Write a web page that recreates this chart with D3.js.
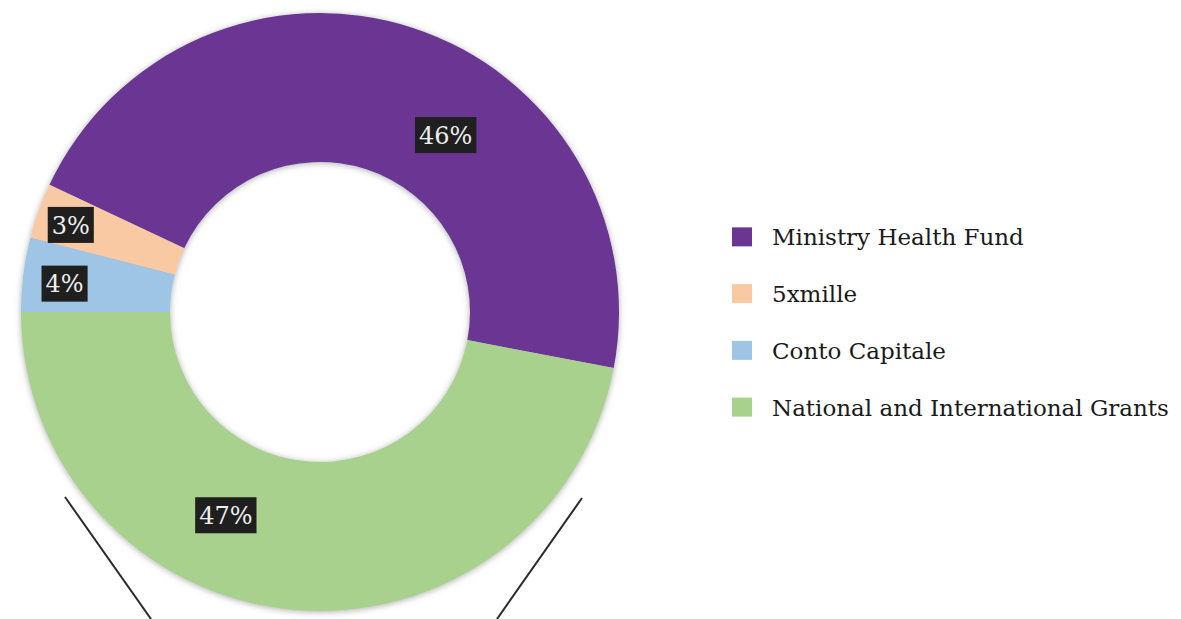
<!DOCTYPE html>
<html>
<head>
<meta charset="utf-8">
<script src="https://cdn.jsdelivr.net/npm/d3@7"></script>
<style>
  html, body { margin: 0; padding: 0; background: #ffffff; }
  svg { display: block; }
</style>
</head>
<body>
<svg id="chart" width="1181" height="619"></svg>
<script>
// ---- data ----
const categories = ["Ministry Health Fund", "5xmille", "Conto Capitale", "National and International Grants"];
const values = [46, 3, 4, 47];
const labels = ["46%", "3%", "4%", "47%"];

// ---- style / layout ----
const colors = ["#6b3593", "#f9c9a3", "#9ec4e6", "#a9d18e"];
const cx = 320, cy = 312, outerR = 299, innerR = 150;
const startDeg = 100.8; // clockwise from 12 o'clock; slices run counter-clockwise
// label placement: fraction along slice, radius
const labelPlace = [{t: 0.395, r: 217}, {t: 0.55, r: 264}, {t: 0.56, r: 257}, {t: 0.385, r: 224}];

const svg = d3.select("#chart");
const defs = svg.append("defs");
const f = defs.append("filter").attr("id", "shadow")
  .attr("x", "-10%").attr("y", "-10%").attr("width", "120%").attr("height", "120%");
f.append("feDropShadow").attr("dx", 0).attr("dy", 1).attr("stdDeviation", 3)
  .attr("flood-color", "#777").attr("flood-opacity", 0.6);

const rad = Math.PI / 180;
const pie = d3.pie().sort(null).value(d => d)
  .startAngle(startDeg * rad).endAngle(startDeg * rad - 2 * Math.PI);
const arcs = pie(values);
const arc = d3.arc().innerRadius(innerR).outerRadius(outerR);

const g = svg.append("g").attr("transform", `translate(${cx},${cy})`);
g.append("g").attr("filter", "url(#shadow)")
  .selectAll("path").data(arcs).join("path")
  .attr("d", arc)
  .attr("fill", (d, i) => colors[i]);

// decorative callout lines
const deco = [[65, 497, 151, 619], [582, 498, 497, 619]];
svg.selectAll("line.deco").data(deco).join("line")
  .attr("class", "deco")
  .attr("x1", d => d[0]).attr("y1", d => d[1]).attr("x2", d => d[2]).attr("y2", d => d[3])
  .attr("stroke", "#2a2a2a").attr("stroke-width", 2);

// data labels
const fontFam = "'DejaVu Serif', serif";
arcs.forEach((d, i) => {
  const p = labelPlace[i];
  const a = d.startAngle + p.t * (d.endAngle - d.startAngle);
  const x = Math.sin(a) * p.r, y = -Math.cos(a) * p.r;
  const lg = g.append("g").attr("transform", `translate(${x},${y})`);
  const rect = lg.append("rect").attr("fill", "#1f1f1f");
  const t = lg.append("text").text(labels[i])
    .attr("text-anchor", "middle").attr("dy", "0.36em")
    .attr("font-family", fontFam).attr("font-size", 24)
    .attr("fill", "#eeeeee");
  const w = t.node().getComputedTextLength();
  rect.attr("x", -w / 2 - 4).attr("y", -18).attr("width", w + 8).attr("height", 36);
});

// legend
const legend = svg.append("g").attr("transform", "translate(732,0)");
const ly = d3.scaleBand().domain(categories).range([209, 436]);
const items = legend.selectAll("g").data(categories).join("g")
  .attr("transform", d => `translate(0,${ly(d) + ly.bandwidth() / 2})`);
items.append("rect").attr("x", 0).attr("y", -10).attr("width", 20).attr("height", 19)
  .attr("fill", (d, i) => colors[i]);
items.append("text").text(d => d)
  .attr("x", 40).attr("y", 8)
  .attr("font-family", fontFam).attr("font-size", 23)
  .attr("textLength", d => null)
  .attr("fill", "#1a1a1a");
</script>
</body>
</html>
